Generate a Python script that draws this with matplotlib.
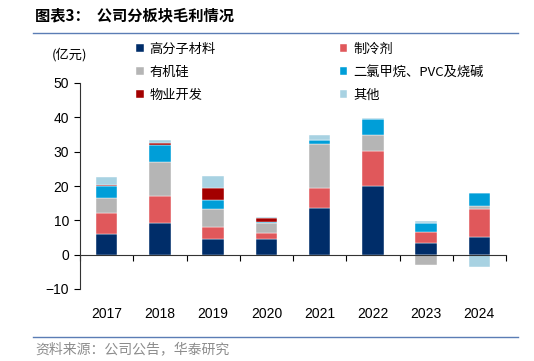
import numpy as np
import matplotlib
matplotlib.use("Agg")
import matplotlib.pyplot as plt

plt.rcParams['font.family'] = ['Liberation Sans', 'Noto Sans CJK SC', 'DejaVu Sans']

years = ['2017', '2018', '2019', '2020', '2021', '2022', '2023', '2024']
series_names = ['高分子材料', '制冷剂', '有机硅', '二氯甲烷、PVC及烧碱', '物业开发', '其他']
polymer = [6.1, 9.2, 4.7, 4.5, 13.5, 20.0, 3.5, 5.1]
refrigerant = [6.0, 8.0, 3.5, 1.8, 5.8, 10.1, 3.1, 8.1]
silicone = [4.4, 9.9, 5.2, 2.8, 12.8, 4.9, -3.1, 1.0]
chloro = [3.4, 4.8, 2.6, 0.5, 1.3, 4.4, 2.6, 3.8]
property_dev = [0.3, 0.6, 3.5, 1.0, 0.0, 0.0, 0.0, 0.0]
others = [2.5, 1.0, 3.4, 0.5, 1.5, 0.4, 0.7, -3.6]
colors = ['#002D69', '#E0585B', '#B5B5B5', '#009ED8', '#A30000', '#A8D2E2']

data = [polymer, refrigerant, silicone, chloro, property_dev, others]

fig = plt.figure(figsize=(5.34, 3.61), dpi=100)
ax = fig.add_axes([80 / 534, 1 - 289 / 361, 426 / 534, 206 / 361])

x = np.arange(len(years))
pos_base = np.zeros(len(years))
neg_base = np.zeros(len(years))
handles = []
for vals, name, c in zip(data, series_names, colors):
    v = np.array(vals)
    base = np.where(v >= 0, pos_base, neg_base)
    h = ax.bar(x, v, 0.4, bottom=base, color=c, label=name,
               edgecolor='white', linewidth=0.3)
    handles.append(h)
    pos_base += np.where(v >= 0, v, 0)
    neg_base += np.where(v < 0, v, 0)

ax.set_xlim(-0.5, len(years) - 0.5)
ax.set_ylim(-10, 50)
ax.set_yticks(range(-10, 51, 10))
ax.tick_params(axis='y', direction='out', length=4, width=0.8, labelsize=10, pad=4)

for s in ['top', 'right']:
    ax.spines[s].set_visible(False)
ax.spines['bottom'].set_position(('data', 0))
ax.spines['left'].set_linewidth(0.8)
ax.spines['bottom'].set_linewidth(0.8)
ax.spines['left'].set_color('#333333')
ax.spines['bottom'].set_color('#333333')

ax.set_xticks(x)
ax.set_xticklabels(years, fontsize=10)
ax.tick_params(axis='x', which='major', length=0, pad=38)
ax.set_xticks(np.arange(-0.5, len(years)), minor=True)
ax.tick_params(axis='x', which='minor', direction='out', length=4, width=0.8)

order = [0, 2, 4, 1, 3, 5]
leg = ax.legend([handles[i] for i in order], [series_names[i] for i in order],
                ncol=2, loc='upper left', bbox_to_anchor=(0.12, 1.22),
                frameon=False, prop={'family': 'Noto Sans CJK SC', 'size': 9.5},
                handlelength=0.55, handleheight=0.55, handletextpad=0.45,
                labelspacing=0.75, columnspacing=9.4, borderaxespad=0)

fig.text(52 / 534, 1 - 55 / 361, '(亿元)', fontsize=9.5, family='Noto Sans CJK SC',
         va='center', ha='left')

fig.text(35 / 534, 1 - 15 / 361, '图表3：  公司分板块毛利情况', fontsize=11,
         family='Noto Sans CJK SC', fontweight='bold', va='center', ha='left')
fig.add_artist(plt.Line2D([33 / 534, 518 / 534], [1 - 33 / 361, 1 - 33 / 361],
                          color='#5B7DB5', linewidth=1))
fig.add_artist(plt.Line2D([33 / 534, 518 / 534], [1 - 337 / 361, 1 - 337 / 361],
                          color='#5B7DB5', linewidth=1))
fig.text(35 / 534, 1 - 349 / 361, '资料来源：公司公告，华泰研究', fontsize=10,
         family='Noto Sans CJK SC', color='#8C8C8C', va='center', ha='left')

fig.savefig('out.png', dpi=100)
